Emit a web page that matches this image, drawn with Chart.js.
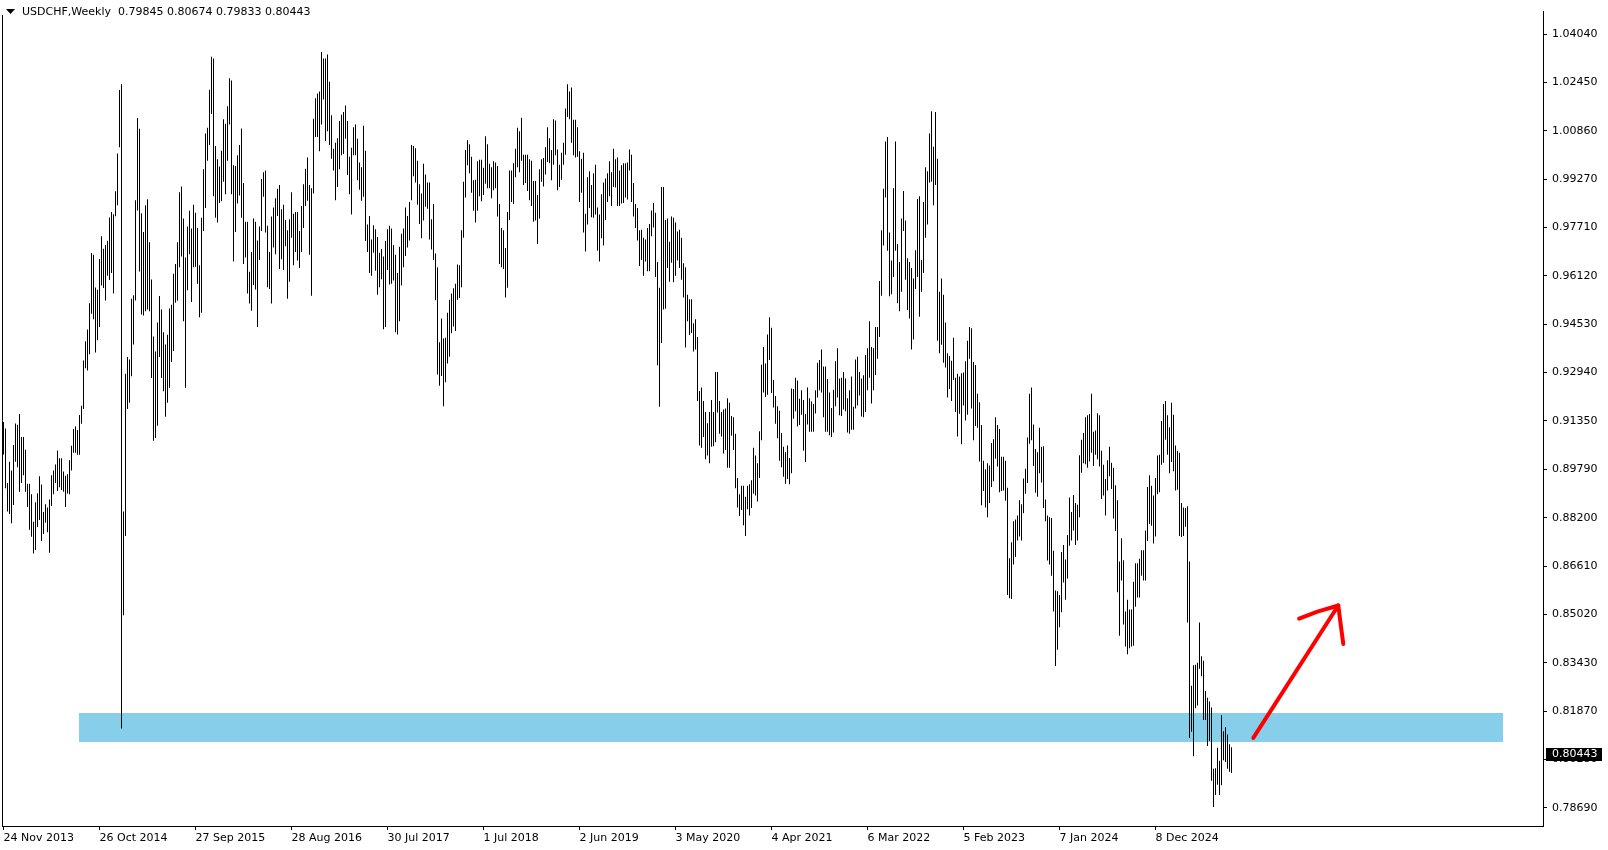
<!DOCTYPE html>
<html>
<head>
<meta charset="utf-8">
<title>USDCHF, Weekly</title>
<script src="https://cdn.jsdelivr.net/npm/chart.js@4.4.1/dist/chart.umd.min.js"></script>
<style>
    html, body { margin: 0; padding: 0; background: #fff; }
    #wrap { width: 1608px; height: 850px; }
    canvas { display: block; }
</style>
</head>
<body>
<div id="wrap"><canvas id="priceChart" width="1608" height="850"></canvas></div>
<script>
// ========== DATA ==========
const symbolTitle = 'USDCHF,Weekly';
const lastOHLC = [0.79845, 0.80674, 0.79833, 0.80443];

// weekly bars, first one = week of 24 Nov 2013
const weekHighs = [
    0.9133,0.9112,0.8933,0.9003,0.8974,0.9058,0.9128,0.9124,0.9159,0.9084,
    0.9084,0.9042,0.8931,0.8931,0.8896,0.8806,0.8870,0.8900,0.8955,0.8928,
    0.8838,0.8864,0.8853,0.8879,0.8959,0.8974,0.8994,0.9040,0.9014,0.9014,
    0.8971,0.8957,0.8962,0.9008,0.9055,0.9110,0.9118,0.9107,0.9156,0.9186,
    0.9335,0.9398,0.9436,0.9522,0.9687,0.9681,0.9574,0.9566,0.9667,0.9742,
    0.9701,0.9713,0.9727,0.9803,0.9821,0.9814,0.9889,1.0013,1.0221,1.0240,
    0.8840,0.9291,0.9346,0.9338,0.9537,0.9548,0.9860,1.0129,1.0094,0.9817,
    0.9756,0.9843,0.9863,0.9722,0.9600,0.9413,0.9364,0.9459,0.9546,0.9502,
    0.9427,0.9387,0.9419,0.9505,0.9517,0.9619,0.9651,0.9722,0.9886,0.9905,
    0.9800,0.9672,0.9774,0.9825,0.9767,0.9845,0.9819,0.9769,0.9647,0.9802,
    0.9961,1.0078,1.0097,1.0222,1.0330,1.0324,1.0037,0.9994,0.9970,1.0022,
    1.0125,1.0110,1.0168,1.0259,1.0252,0.9974,0.9972,1.0007,1.0041,1.0095,
    0.9916,0.9789,0.9789,0.9625,0.9690,0.9800,0.9789,0.9728,0.9774,0.9929,
    0.9951,0.9957,0.9776,0.9690,0.9806,0.9836,0.9866,0.9897,0.9910,0.9830,
    0.9845,0.9795,0.9761,0.9797,0.9886,0.9815,0.9821,0.9821,0.9759,0.9841,
    0.9912,0.9963,1.0000,0.9910,0.9899,1.0127,1.0194,1.0209,1.0216,1.0345,
    1.0324,1.0324,1.0337,1.0248,1.0138,1.0028,1.0048,1.0063,1.0119,1.0140,
    1.0149,1.0170,1.0119,1.0002,1.0032,1.0099,1.0108,1.0061,0.9983,0.9968,
    1.0104,1.0022,0.9780,0.9808,0.9731,0.9778,0.9765,0.9739,0.9688,0.9700,
    0.9675,0.9726,0.9765,0.9776,0.9767,0.9713,0.9681,0.9621,0.9707,0.9750,
    0.9767,0.9836,0.9808,0.9854,1.0041,1.0037,1.0030,0.9989,0.9912,0.9882,
    0.9979,0.9944,0.9918,0.9918,0.9797,0.9847,0.9685,0.9640,0.9394,0.9472,
    0.9407,0.9409,0.9491,0.9534,0.9554,0.9571,0.9586,0.9649,0.9647,0.9761,
    0.9920,1.0024,1.0056,1.0043,1.0002,0.9925,0.9927,0.9987,0.9992,0.9992,
    0.9966,1.0069,1.0043,0.9979,0.9968,0.9987,0.9983,0.9972,0.9847,0.9769,
    0.9761,0.9703,0.9821,0.9957,0.9957,0.9981,1.0028,1.0097,1.0086,1.0130,
    1.0009,1.0009,1.0009,0.9994,0.9989,0.9923,0.9923,0.9877,0.9961,0.9994,
    0.9998,1.0033,1.0099,1.0063,1.0024,1.0125,1.0121,1.0026,0.9976,1.0015,
    1.0048,1.0160,1.0240,1.0216,1.0229,1.0123,1.0123,1.0099,1.0020,0.9996,
    1.0015,0.9815,0.9935,0.9955,0.9910,0.9948,0.9976,0.9836,0.9813,0.9879,
    0.9918,0.9931,0.9948,0.9987,0.9951,1.0028,0.9994,1.0000,0.9957,0.9974,
    0.9981,0.9981,0.9983,1.0026,1.0009,0.9916,0.9847,0.9834,0.9761,0.9763,
    0.9737,0.9731,0.9769,0.9782,0.9826,0.9851,0.9819,0.9657,0.9573,0.9903,
    0.9903,0.9795,0.9800,0.9724,0.9806,0.9802,0.9787,0.9757,0.9763,0.9737,
    0.9653,0.9640,0.9550,0.9535,0.9535,0.9457,0.9470,0.9412,0.9235,0.9246,
    0.9202,0.9166,0.9129,0.9166,0.9205,0.9166,0.9297,0.9297,0.9202,0.9166,
    0.9174,0.9177,0.9211,0.9196,0.9153,0.9149,0.9095,0.8950,0.8896,0.8924,
    0.8924,0.8888,0.8924,0.8929,0.8942,0.9049,0.9023,0.8998,0.9103,0.9321,
    0.9379,0.9325,0.9420,0.9476,0.9442,0.9271,0.9218,0.9185,0.9170,0.9097,
    0.9052,0.9034,0.9056,0.9015,0.9243,0.9241,0.9278,0.9269,0.9209,0.9237,
    0.9205,0.9159,0.9246,0.9211,0.9200,0.9192,0.9237,0.9327,0.9336,0.9371,
    0.9315,0.9315,0.9274,0.9230,0.9179,0.9239,0.9332,0.9375,0.9276,0.9278,
    0.9297,0.9276,0.9211,0.9237,0.9282,0.9183,0.9338,0.9347,0.9297,0.9276,
    0.9286,0.9353,0.9375,0.9463,0.9379,0.9375,0.9444,0.9444,0.9595,0.9761,
    0.9897,1.0052,1.0067,0.9754,0.9662,0.9899,1.0052,0.9716,0.9657,0.9800,
    0.9890,0.9793,0.9670,0.9657,0.9638,0.9603,0.9696,0.9864,0.9873,0.9664,
    0.9854,0.9968,0.9955,1.0078,1.0151,1.0035,1.0149,0.9996,0.9560,0.9603,
    0.9550,0.9459,0.9358,0.9349,0.9334,0.9409,0.9278,0.9291,0.9282,0.9293,
    0.9295,0.9332,0.9399,0.9444,0.9440,0.9330,0.9320,0.9226,0.9198,0.9123,
    0.9006,0.8978,0.8998,0.8991,0.9064,0.9077,0.9149,0.9123,0.9110,0.9019,
    0.9019,0.9006,0.8918,0.8687,0.8739,0.8808,0.8814,0.8827,0.8877,0.8864,
    0.8948,0.8980,0.9082,0.9226,0.9246,0.9125,0.9045,0.9034,0.9114,0.9052,
    0.9054,0.8879,0.8827,0.8821,0.8819,0.8711,0.8581,0.8579,0.8566,0.8707,
    0.8730,0.8683,0.8763,0.8886,0.8838,0.8894,0.8868,0.8862,0.9024,0.9075,
    0.9097,0.9149,0.9155,0.9159,0.9226,0.9101,0.9105,0.9162,0.9155,0.9039,
    0.8993,0.8946,0.9008,0.9052,0.9000,0.8983,0.8926,0.8877,0.8676,0.8752,
    0.8680,0.8512,0.8551,0.8519,0.8519,0.8610,0.8670,0.8670,0.8685,0.8713,
    0.8713,0.8778,0.8920,0.8959,0.8924,0.8892,0.8950,0.9023,0.9026,0.9136,
    0.9192,0.9202,0.9155,0.9116,0.9196,0.9157,0.9056,0.9039,0.9032,0.8868,
    0.8853,0.8851,0.8857,0.8676,0.8269,0.8336,0.8338,0.8344,0.8476,0.8366,
    0.8351,0.8252,0.8230,0.8217,0.8198,0.7997,0.7999,0.8066,0.8023,0.8172,
    0.8120,0.8133,0.8109,0.8077,0.80674
];

const weekLows = [
    0.9027,0.8916,0.8840,0.8832,0.8801,0.8861,0.9003,0.8985,0.8905,0.8933,
    0.8959,0.8905,0.8855,0.8780,0.8757,0.8702,0.8714,0.8789,0.8812,0.8743,
    0.8766,0.8803,0.8772,0.8705,0.8858,0.8896,0.8933,0.8907,0.8919,0.8910,
    0.8905,0.8855,0.8899,0.8896,0.8974,0.9032,0.9032,0.9026,0.9026,0.9127,
    0.9176,0.9309,0.9302,0.9355,0.9488,0.9470,0.9361,0.9401,0.9444,0.9580,
    0.9572,0.9531,0.9612,0.9598,0.9621,0.9554,0.9807,0.9843,1.0033,0.8129,
    0.8500,0.8760,0.9176,0.9196,0.9283,0.9387,0.9531,0.9826,0.9626,0.9485,
    0.9482,0.9496,0.9502,0.9496,0.9277,0.9072,0.9081,0.9121,0.9346,0.9277,
    0.9234,0.9150,0.9196,0.9245,0.9330,0.9366,0.9524,0.9530,0.9640,0.9675,
    0.9463,0.9245,0.9565,0.9683,0.9526,0.9640,0.9642,0.9586,0.9476,0.9491,
    0.9759,0.9834,0.9989,1.0041,1.0142,0.9873,0.9802,0.9787,0.9851,0.9856,
    0.9920,0.9879,0.9989,1.0108,0.9879,0.9659,0.9756,0.9849,0.9875,0.9802,
    0.9651,0.9672,0.9554,0.9521,0.9498,0.9582,0.9567,0.9444,0.9664,0.9759,
    0.9871,0.9754,0.9575,0.9569,0.9521,0.9705,0.9683,0.9808,0.9634,0.9666,
    0.9631,0.9709,0.9537,0.9593,0.9737,0.9647,0.9690,0.9662,0.9638,0.9690,
    0.9769,0.9841,0.9858,0.9681,0.9547,0.9882,1.0067,1.0067,1.0020,1.0108,
    1.0190,1.0054,1.0086,1.0041,0.9996,0.9957,0.9860,0.9903,0.9961,1.0007,
    1.0011,1.0061,0.9942,0.9879,0.9813,1.0007,1.0007,0.9925,0.9894,0.9858,
    0.9871,0.9726,0.9690,0.9621,0.9612,0.9688,0.9629,0.9550,0.9575,0.9601,
    0.9437,0.9444,0.9631,0.9584,0.9586,0.9597,0.9427,0.9420,0.9463,0.9580,
    0.9640,0.9677,0.9705,0.9728,0.9860,0.9938,0.9918,0.9845,0.9782,0.9735,
    0.9793,0.9838,0.9832,0.9731,0.9698,0.9664,0.9532,0.9289,0.9252,0.9284,
    0.9185,0.9263,0.9325,0.9347,0.9424,0.9446,0.9431,0.9534,0.9539,0.9575,
    0.9737,0.9869,0.9974,0.9948,0.9884,0.9825,0.9787,0.9825,0.9873,0.9856,
    0.9877,0.9914,0.9899,0.9899,0.9866,0.9892,0.9899,0.9806,0.9651,0.9640,
    0.9634,0.9541,0.9573,0.9795,0.9854,0.9847,0.9935,0.9968,0.9951,0.9989,
    0.9910,0.9916,0.9890,0.9860,0.9841,0.9789,0.9793,0.9716,0.9800,0.9920,
    0.9905,0.9944,0.9985,0.9981,0.9925,0.9976,1.0007,0.9892,0.9903,0.9927,
    0.9976,1.0009,1.0132,1.0125,1.0048,1.0007,1.0000,1.0002,0.9854,0.9884,
    0.9754,0.9692,0.9780,0.9834,0.9804,0.9802,0.9813,0.9694,0.9659,0.9735,
    0.9711,0.9795,0.9854,0.9873,0.9841,0.9903,0.9901,0.9841,0.9841,0.9849,
    0.9851,0.9869,0.9862,0.9957,0.9854,0.9806,0.9769,0.9728,0.9644,0.9664,
    0.9612,0.9659,0.9627,0.9627,0.9742,0.9770,0.9608,0.9319,0.9183,0.9392,
    0.9502,0.9504,0.9638,0.9593,0.9655,0.9591,0.9612,0.9662,0.9638,0.9599,
    0.9541,0.9377,0.9463,0.9418,0.9425,0.9364,0.9371,0.9202,0.9056,0.9049,
    0.9084,0.9011,0.9023,0.8998,0.9052,0.9054,0.9067,0.9164,0.9095,0.9086,
    0.9030,0.9041,0.8983,0.8983,0.9088,0.9041,0.8916,0.8853,0.8825,0.8845,
    0.8795,0.8760,0.8847,0.8827,0.8851,0.8898,0.8892,0.8873,0.8950,0.9073,
    0.9230,0.9215,0.9222,0.9336,0.9228,0.9181,0.9127,0.9080,0.9006,0.8985,
    0.8954,0.8931,0.8946,0.8929,0.8965,0.9144,0.9168,0.9118,0.9123,0.9157,
    0.9039,0.9002,0.9125,0.9101,0.9101,0.9101,0.9161,0.9213,0.9237,0.9230,
    0.9149,0.9101,0.9101,0.9090,0.9084,0.9099,0.9185,0.9213,0.9155,0.9153,
    0.9174,0.9168,0.9099,0.9095,0.9108,0.9108,0.9177,0.9187,0.9220,0.9151,
    0.9149,0.9166,0.9237,0.9278,0.9194,0.9237,0.9287,0.9340,0.9412,0.9547,
    0.9711,0.9869,0.9694,0.9545,0.9552,0.9608,0.9694,0.9522,0.9496,0.9560,
    0.9759,0.9599,0.9500,0.9472,0.9371,0.9403,0.9569,0.9608,0.9478,0.9560,
    0.9621,0.9737,0.9780,0.9918,0.9920,0.9843,0.9910,0.9399,0.9358,0.9386,
    0.9327,0.9312,0.9213,0.9241,0.9202,0.9271,0.9166,0.9086,0.9160,0.9060,
    0.9187,0.9138,0.9157,0.9340,0.9177,0.9073,0.9120,0.9114,0.9004,0.8860,
    0.8907,0.8853,0.8821,0.8868,0.8920,0.8939,0.9013,0.8987,0.8903,0.8907,
    0.8909,0.8875,0.8566,0.8556,0.8553,0.8666,0.8691,0.8745,0.8758,0.8745,
    0.8834,0.8898,0.8933,0.9062,0.9073,0.8989,0.8901,0.8888,0.8965,0.8935,
    0.8851,0.8808,0.8679,0.8666,0.8629,0.8512,0.8334,0.8387,0.8461,0.8510,
    0.8607,0.8551,0.8620,0.8728,0.8745,0.8778,0.8730,0.8745,0.8821,0.8967,
    0.8998,0.8995,0.8983,0.9004,0.9032,0.8989,0.9026,0.9011,0.8987,0.8881,
    0.8892,0.8827,0.8909,0.8955,0.8914,0.8817,0.8776,0.8575,0.8433,0.8614,
    0.8470,0.8398,0.8372,0.8392,0.8398,0.8400,0.8528,0.8558,0.8558,0.8629,
    0.8614,0.8614,0.8743,0.8799,0.8793,0.8735,0.8758,0.8896,0.8903,0.8993,
    0.9000,0.9075,0.9026,0.8965,0.9002,0.8972,0.8909,0.8911,0.8760,0.8756,
    0.8760,0.8790,0.8476,0.8098,0.8118,0.8038,0.8195,0.8204,0.8325,0.8300,
    0.8157,0.8157,0.8072,0.8088,0.7958,0.7872,0.7911,0.7945,0.7911,0.7943,
    0.8025,0.8019,0.7997,0.7987,0.79833
];

// date labels, one every 48 weekly bars
const dateTickIndex = [0, 48, 96, 144, 192, 240, 288, 336, 384, 432, 480, 528, 576];
const dateTickLabels = ['24 Nov 2013', '26 Oct 2014', '27 Sep 2015', '28 Aug 2016', '30 Jul 2017',
    '1 Jul 2018', '2 Jun 2019', '3 May 2020', '4 Apr 2021', '6 Mar 2022',
    '5 Feb 2023', '7 Jan 2024', '8 Dec 2024'];

// price scale ticks (terminal shows rounded values at evenly spaced steps)
const priceTickValues = [1.04040, 1.02456, 1.00871, 0.99287, 0.97703, 0.96119, 0.94534, 0.92950,
    0.91366, 0.89781, 0.88197, 0.86613, 0.85029, 0.83444, 0.81860, 0.80276, 0.78690];
const priceTickLabels = ['1.04040', '1.02450', '1.00860', '0.99270', '0.97710', '0.96120', '0.94530', '0.92940',
    '0.91350', '0.89790', '0.88200', '0.86610', '0.85020', '0.83430', '0.81870', '0.80280', '0.78690'];

// drawn objects: support zone (bar index range, price range) and the red arrow
const zoneBars = [37.75, 749.75];
const zonePrices = [0.8179, 0.8086];
const arrowShaft = [[624.9, 0.8098], [667.4, 0.8532]];
const arrowHead = [[647.8, 0.8489], [657.0, 0.8512], [667.4, 0.8532], [668.6, 0.8470], [669.9, 0.8406]];

// ========== CHART ==========
Chart.defaults.font.family = '"DejaVu Sans", Verdana, sans-serif';
Chart.defaults.font.size = 11;
Chart.defaults.color = '#000';

const terminalDecor = {
    id: 'terminalDecor',
    beforeDatasetsDraw(chart) {
        const {ctx, scales: {x, y}} = chart;
        const x1 = Math.round(x.getPixelForValue(zoneBars[0]));
        const x2 = Math.round(x.getPixelForValue(zoneBars[1]));
        const y1 = Math.round(y.getPixelForValue(zonePrices[0]));
        const y2 = Math.round(y.getPixelForValue(zonePrices[1]));
        ctx.save();
        ctx.fillStyle = '#87CEEB';
        ctx.fillRect(x1, y1, x2 - x1, y2 - y1);
        ctx.restore();
    },
    afterDraw(chart) {
        const {ctx, chartArea, scales: {y}} = chart;
        ctx.save();
        // left frame line (header box hides its top part)
        ctx.strokeStyle = '#000';
        ctx.lineWidth = 1;
        ctx.beginPath();
        ctx.moveTo(2.5, 15);
        ctx.lineTo(2.5, chartArea.bottom);
        ctx.stroke();

        // header: symbol, timeframe and OHLC of the last bar
        ctx.fillStyle = '#000';
        ctx.beginPath();
        ctx.moveTo(6, 9);
        ctx.lineTo(15, 9);
        ctx.lineTo(10.5, 14);
        ctx.closePath();
        ctx.fill();
        ctx.font = '11px "DejaVu Sans"';
        ctx.textBaseline = 'middle';
        ctx.textAlign = 'left';
        ctx.fillText(symbolTitle + '  ' + lastOHLC.map(v => v.toFixed(5)).join(' '), 22, 12);

        // current price marker on the price scale
        const py = Math.round(y.getPixelForValue(lastOHLC[3]));
        ctx.fillRect(1546, py - 6, 56, 13);
        ctx.fillStyle = '#fff';
        ctx.fillText(lastOHLC[3].toFixed(5), 1552, py + 0.5);
        ctx.restore();
    }
};

const barData = weekHighs.map((h, i) => ({x: i, y: [weekLows[i], h]}));

new Chart(document.getElementById('priceChart'), {
    type: 'bar',
    data: {
        datasets: [
            {
                type: 'line',
                data: arrowShaft.map(p => ({x: p[0], y: p[1]})),
                borderColor: '#ff0000',
                borderWidth: 4,
                pointRadius: 0,
                fill: false,
                borderCapStyle: 'round',
                order: 0
            },
            {
                type: 'line',
                data: arrowHead.map(p => ({x: p[0], y: p[1]})),
                borderColor: '#ff0000',
                borderWidth: 4,
                pointRadius: 0,
                fill: false,
                borderCapStyle: 'round',
                borderJoinStyle: 'round',
                order: 0
            },
            {
                type: 'bar',
                data: barData,
                backgroundColor: '#000',
                borderWidth: 0,
                barThickness: 1,
                maxBarThickness: 1,
                inflateAmount: 0,
                order: 1
            }
        ]
    },
    options: {
        responsive: false,
        animation: false,
        devicePixelRatio: 1,
        layout: { padding: { left: 2, top: 1, right: 0, bottom: 0 } },
        plugins: {
            legend: { display: false },
            tooltip: { enabled: false }
        },
        scales: {
            x: {
                type: 'linear',
                position: 'bottom',
                min: -0.75,
                max: 769.75,
                offset: false,
                afterBuildTicks: axis => { axis.ticks = dateTickIndex.map(v => ({value: v})); },
                afterFit: axis => { axis.height = 24; },
                grid: { display: true, drawOnChartArea: false, drawTicks: true, tickLength: 4, color: '#000', offset: false },
                border: { display: true, color: '#000' },
                ticks: {
                    autoSkip: false,
                    maxRotation: 0,
                    minRotation: 0,
                    align: 'start',
                    padding: 2,
                    callback: (val, idx) => dateTickLabels[idx]
                }
            },
            y: {
                type: 'linear',
                position: 'right',
                min: 0.78095,
                max: 1.04777,
                beginAtZero: false,
                afterBuildTicks: axis => { axis.ticks = priceTickValues.map(v => ({value: v})); },
                afterFit: axis => { axis.width = 65; },
                grid: { display: true, drawOnChartArea: false, drawTicks: true, tickLength: 4, color: '#000' },
                border: { display: true, color: '#000' },
                ticks: {
                    autoSkip: false,
                    padding: 5,
                    callback: (val, idx) => priceTickLabels[idx]
                }
            }
        }
    },
    plugins: [terminalDecor]
});
</script>
</body>
</html>
